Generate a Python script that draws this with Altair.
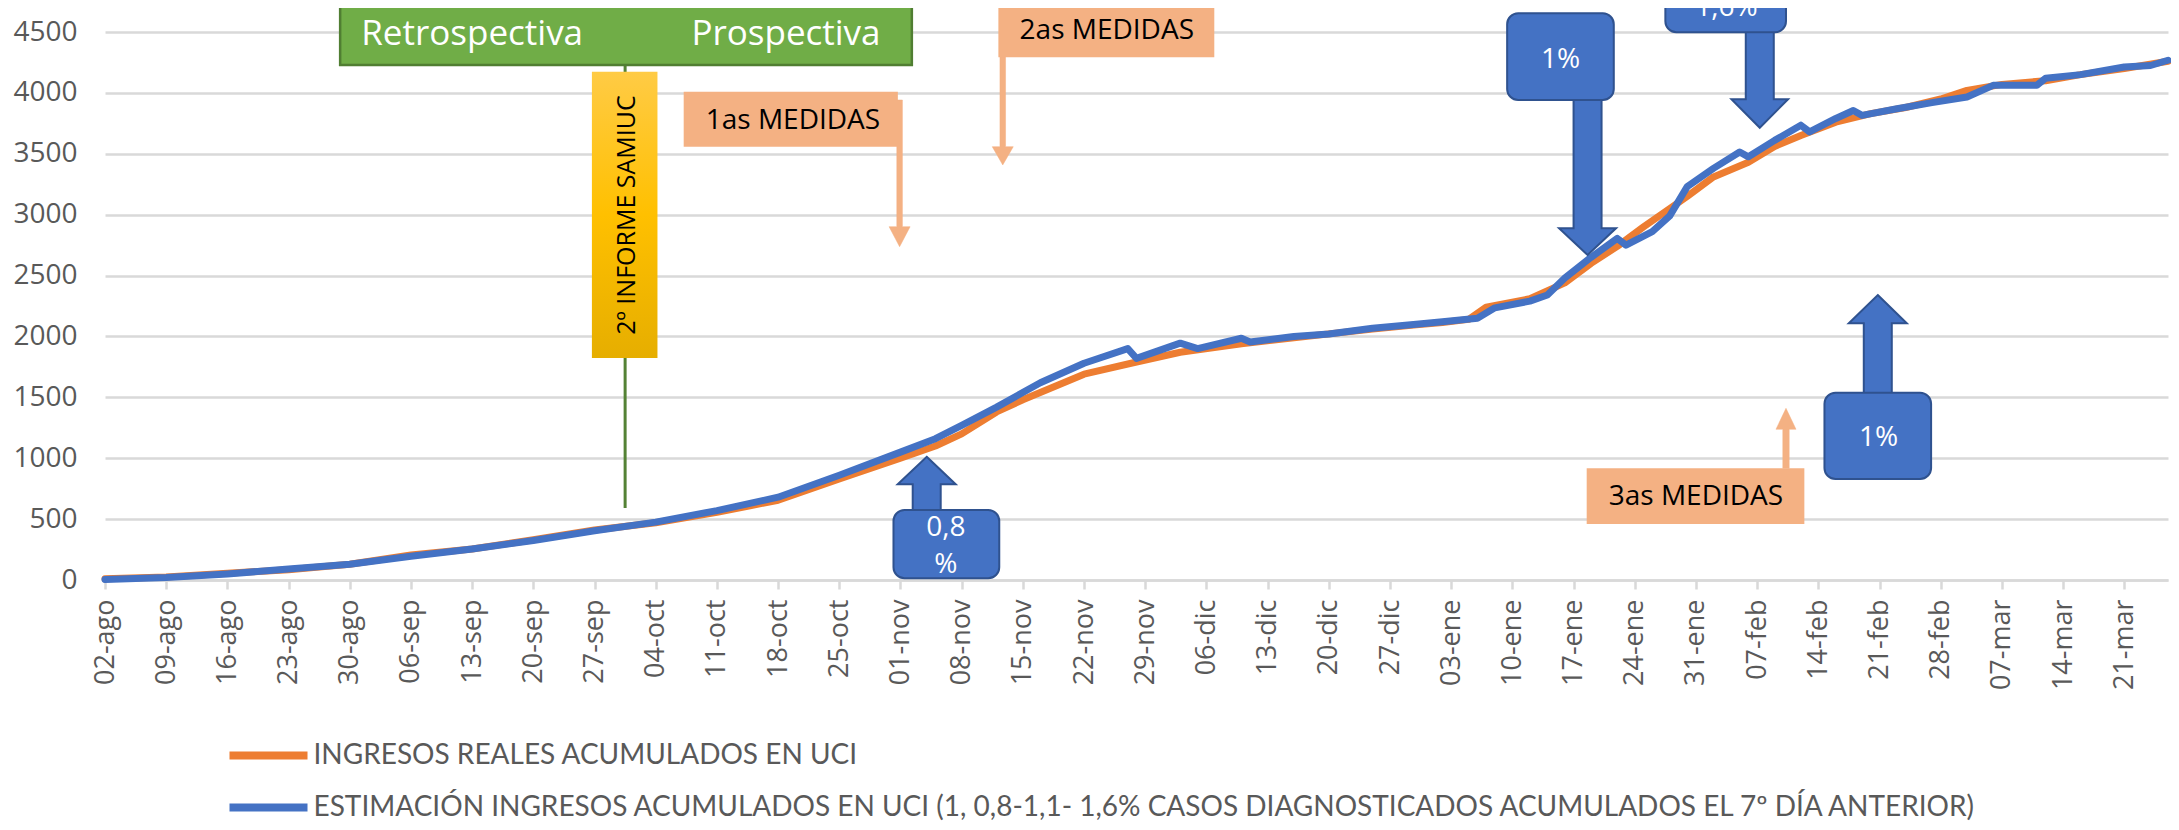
import altair as alt
import pandas as pd

# ---------------- data ----------------
tick_labels = ['02-ago', '09-ago', '16-ago', '23-ago', '30-ago', '06-sep', '13-sep', '20-sep',
               '27-sep', '04-oct', '11-oct', '18-oct', '25-oct', '01-nov', '08-nov', '15-nov',
               '22-nov', '29-nov', '06-dic', '13-dic', '20-dic', '27-dic', '03-ene', '10-ene',
               '17-ene', '24-ene', '31-ene', '07-feb', '14-feb', '21-feb', '28-feb', '07-mar',
               '14-mar', '21-mar']

# days counted from 02-ago
real_days = [0, 7, 14, 21, 28, 35, 42, 49, 56, 63, 70, 77, 84, 91, 95, 98, 102, 105, 112, 118,
             123, 130, 136, 145, 150, 153, 156, 158, 163, 167, 170, 173, 176, 179, 181, 184, 188,
             191, 194, 198, 202, 206, 210, 213, 217, 222, 226, 231, 236]
real_vals = [10, 25, 55, 85, 130, 205, 255, 330, 410, 470, 555, 655, 830, 1000, 1100, 1200, 1380,
             1480, 1690, 1790, 1870, 1940, 1990, 2060, 2095, 2115, 2140, 2240, 2310, 2440, 2600,
             2740, 2900, 3050, 3150, 3310, 3430, 3560, 3650, 3760, 3830, 3880, 3950, 4020, 4070,
             4100, 4150, 4200, 4260]

est_days = [0, 7, 14, 21, 28, 35, 42, 49, 56, 63, 70, 77, 84, 91, 95, 98, 102, 107, 112, 117,
            118, 123, 125, 130, 131, 136, 140, 145, 150, 153, 157, 159, 163, 165, 167, 170, 173,
            174, 177, 179, 181, 184, 187, 188, 191, 194, 195, 198, 200, 201, 205, 209, 213, 216,
            221, 222, 226, 231, 234, 236]
est_vals = [5, 20, 50, 90, 130, 195, 255, 325, 405, 475, 570, 680, 860, 1050, 1160, 1270, 1420,
            1620, 1780, 1900, 1820, 1945, 1900, 1985, 1955, 2000, 2020, 2068, 2100, 2120, 2150,
            2235, 2290, 2340, 2480, 2650, 2805, 2750, 2860, 2990, 3230, 3380, 3515, 3475, 3610,
            3735, 3680, 3790, 3855, 3815, 3870, 3920, 3966, 4062, 4062, 4120, 4150, 4213, 4225,
            4268]

REAL = "INGRESOS REALES ACUMULADOS EN UCI"
EST = ("ESTIMACIÓN INGRESOS ACUMULADOS EN UCI (1, 0,8-1,1- 1,6% CASOS DIAGNOSTICADOS "
       "ACUMULADOS EL 7º DÍA ANTERIOR)")

real_df = pd.DataFrame({'x': real_days, 'y': real_vals, 'serie': REAL})
est_df = pd.DataFrame({'x': est_days, 'y': est_vals, 'serie': EST})

# ---------------- scales / axes ----------------
FONT = 'Open Sans'
GRAY = '#595959'
GRID = '#D9D9D9'

x_scale = alt.Scale(domain=[0, 236], nice=False, zero=False)
y_scale = alt.Scale(domain=[0, 4500], nice=False)
color_scale = alt.Scale(domain=[REAL, EST], range=['#ED7D31', '#4472C4'])

label_expr = "[" + ",".join("'%s'" % t for t in tick_labels) + "][round(datum.value / 7)]"

x_axis = alt.Axis(values=list(range(0, 7 * len(tick_labels), 7)), labelExpr=label_expr,
                  labelAngle=270, labelFont=FONT, labelFontSize=27, labelColor=GRAY,
                  labelPadding=10, tickSize=9, tickColor=GRID, tickWidth=2.5,
                  domainColor=GRID, domainWidth=2.5, grid=False, labelOverlap=False,
                  labelFlush=False)
y_axis = alt.Axis(values=list(range(0, 4501, 500)), format='d', labelFont=FONT, labelFontSize=28,
                  labelColor=GRAY, labelPadding=28, ticks=False, domain=False,
                  gridColor=GRID, gridWidth=2.5, labelFlush=False, labelOverlap=False)

X = alt.X('x:Q', scale=x_scale, axis=x_axis, title=None)
Y = alt.Y('y:Q', scale=y_scale, axis=y_axis, title=None)

legend = alt.Legend(title=None, orient='none', legendX=140, legendY=700,
                    symbolType='M-2,0L2,0', symbolSize=1521, symbolStrokeWidth=8,
                    labelFont='Lato', labelFontSize=28, labelColor=GRAY, labelLimit=0,
                    labelOffset=21.5, rowPadding=12, padding=0, direction='vertical')

line_real = alt.Chart(real_df).mark_line(strokeWidth=7, strokeCap='round', strokeJoin='round').encode(
    x=X, y=Y, color=alt.Color('serie:N', scale=color_scale, legend=legend))
line_est = alt.Chart(est_df).mark_line(strokeWidth=7, strokeCap='round', strokeJoin='round').encode(
    x=X, y=Y, color=alt.Color('serie:N', scale=color_scale, legend=legend))

# ---------------- annotations ----------------
def rect_df(rows):
    return pd.DataFrame(rows, columns=['x', 'x2', 'y', 'y2'])

def text_df(rows):
    return pd.DataFrame(rows, columns=['t', 'x', 'y'])

def rect_layer(rows, **kw):
    return alt.Chart(rect_df(rows)).mark_rect(**kw).encode(x=X, x2='x2:Q', y=Y, y2='y2:Q')

def text_layer(rows, **kw):
    return alt.Chart(text_df(rows)).mark_text(**kw).encode(x=X, y=Y, text='t:N')

def arrow_layer(x, y, path, **kw):
    return alt.Chart(pd.DataFrame({'x': [x], 'y': [y]})).mark_point(
        shape=path, size=4, filled=True, opacity=1, **kw).encode(x=X, y=Y)

# green "Retrospectiva / Prospectiva" box and vertical line
green_rule = alt.Chart(pd.DataFrame({'x': [59.5], 'y': [591], 'y2': [4229]})).mark_rule(
    color='#548235', strokeWidth=3).encode(x=X, y=Y, y2='y2:Q')
green_box = rect_layer([(26.9, 92.3, 4229, 4800)], fill='#70AD47', stroke='#507E32', strokeWidth=2.5)
green_text = text_layer([('Retrospectiva', 42.0, 4393), ('Prospectiva', 77.9, 4393)],
                        font=FONT, fontSize=35, color='white', align='center', baseline='alphabetic')

# yellow vertical box
yellow_grad = alt.Gradient(gradient='linear', x1=0, x2=0, y1=0, y2=1,
                           stops=[alt.GradientStop(color='#FFCB45', offset=0),
                                  alt.GradientStop(color='#FFC000', offset=0.5),
                                  alt.GradientStop(color='#E6AE00', offset=1)])
yellow_box = rect_layer([(55.7, 63.2, 1823, 4174)], fill=yellow_grad)
yellow_text = text_layer([('2º INFORME SAMIUC', 59.7, 2997)], font=FONT, fontSize=25,
                         color='black', angle=270, align='center', baseline='middle')

# salmon "MEDIDAS" boxes and arrows
SALMON = '#F4B183'
salmon_arrows = [
    arrow_layer(90.9, 2737, 'M0,0L10.5,-20L2.8,-20L2.8,-146.7L-2.8,-146.7L-2.8,-20L-10.5,-20Z',
                fill=SALMON, stroke=SALMON, strokeWidth=0.5),
    arrow_layer(102.7, 3408, 'M0,0L10.5,-18.3L2.8,-18.3L2.8,-110L-2.8,-110L-2.8,-18.3L-10.5,-18.3Z',
                fill=SALMON, stroke=SALMON, strokeWidth=0.5),
    arrow_layer(192.3, 1410, 'M0,0L10,21L3.2,21L3.2,60L-3.2,60L-3.2,21L-10,21Z',
                fill=SALMON, stroke=SALMON, strokeWidth=0.5),
]
salmon_boxes = rect_layer([(66.2, 90.7, 3558, 4010), (102.2, 126.9, 4292, 4749),
                           (169.5, 194.4, 460, 917)], fill=SALMON)
salmon_text = text_layer([('1as MEDIDAS', 78.7, 3769), ('2as MEDIDAS', 114.6, 4508),
                          ('3as MEDIDAS', 182.0, 682)], font=FONT, fontSize=28, color='black',
                         align='center', baseline='middle')

# blue percentage callouts and arrows
BLUE = '#4472C4'
BLUE_EDGE = '#2F528F'
blue_arrows = [
    arrow_layer(94.0, 1012, 'M0,0L29,27.6L14,27.6L14,60L-14,60L-14,27.6L-29,27.6Z',
                fill=BLUE, stroke=BLUE_EDGE, strokeWidth=2),
    arrow_layer(169.6, 2669, 'M0,0L28.5,-26.7L14,-26.7L14,-160L-14,-160L-14,-26.7L-28.5,-26.7Z',
                fill=BLUE, stroke=BLUE_EDGE, strokeWidth=2),
    arrow_layer(189.3, 3714, 'M0,0L28.3,-28.4L14,-28.4L14,-100L-14,-100L-14,-28.4L-28.3,-28.4Z',
                fill=BLUE, stroke=BLUE_EDGE, strokeWidth=2),
    arrow_layer(202.8, 2340, 'M0,0L29,28.3L14,28.3L14,102L-14,102L-14,28.3L-29,28.3Z',
                fill=BLUE, stroke=BLUE_EDGE, strokeWidth=2),
]
blue_boxes = rect_layer([(90.2, 102.3, 14, 575), (160.4, 172.6, 3942, 4654),
                         (178.5, 192.3, 4498, 5050), (196.7, 208.9, 829, 1538)],
                        fill=BLUE, stroke=BLUE_EDGE, strokeWidth=2, cornerRadius=11)
blue_text = text_layer([('0,8', 96.2, 427), ('%', 96.2, 123), ('1%', 166.5, 4270),
                        ('1,6%', 185.5, 4700), ('1%', 202.9, 1164)],
                       font=FONT, fontSize=28, color='white', align='center', baseline='middle')

layers = [line_real, line_est, green_rule, green_box, green_text, yellow_box, yellow_text]
layers += salmon_arrows + [salmon_boxes, salmon_text] + blue_arrows + [blue_boxes, blue_text]

chart = alt.layer(*layers).properties(
    width=2063, height=548,
    autosize=alt.AutoSizeParams(type='none'),
    padding={'left': 97, 'top': 24, 'right': 3, 'bottom': 242},
    background='white',
).configure_view(stroke='transparent')

chart.save("out.html", embed_options={"renderer": "svg", "actions": False})
